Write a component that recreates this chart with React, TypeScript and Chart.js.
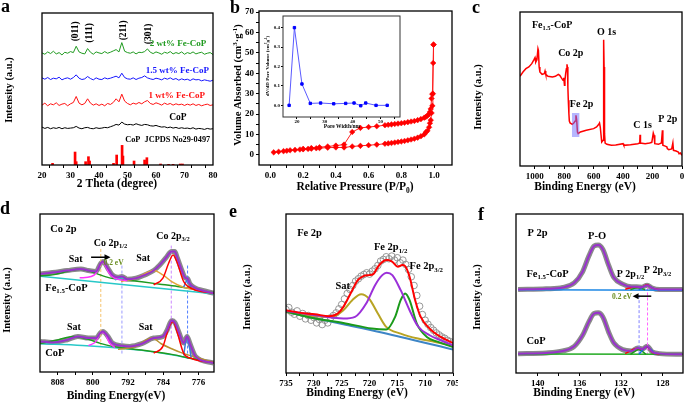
import React, { useEffect, useRef } from "react";
import { Chart, registerables } from "chart.js";

Chart.register(...registerables);

const SERIF = '"Liberation Serif", "Times New Roman", Times, serif';

// ---------------- Panel a : XRD ----------------
const xrdTheta = [20,21,22,23,24,25,26,27,28,29,30,31,32,33,34,35,36,37,38,39,40,41,42,43,44,45,46,47,48,49,50,51,52,53,54,55,56,57,58,59,60,61,62,63,64,65,66,67,68,69,70,71,72,73,74,75,76,77,78,79,80];
const xrd2wt = [337,333,340,335,342,334,338,331,339,336,341,338,357,340,336,334,350,339,333,340,337,335,341,336,339,343,347,340,368,342,338,336,340,334,339,338,341,349,339,335,340,337,333,339,336,341,334,338,335,340,333,338,335,340,334,337,339,333,336,338,332];
const xrd15wt = [262,258,263,257,261,259,264,256,260,262,258,263,271,261,257,259,266,260,256,262,258,257,262,259,261,264,267,262,276,263,259,258,262,257,261,263,268,262,259,257,261,259,256,261,258,262,257,260,255,259,256,258,254,259,256,257,253,256,254,252,255];
const xrd1wt = [180,186,178,184,181,187,179,183,185,178,184,188,206,186,181,185,199,186,180,184,179,183,178,185,182,188,199,190,213,192,185,181,186,183,188,184,190,194,185,182,187,184,180,186,182,185,180,184,181,183,179,183,180,184,179,182,178,181,183,179,181];
const xrdCoP = [114,110,113,109,112,110,113,109,112,110,111,112,116,111,109,112,113,110,109,112,110,111,113,112,115,118,122,120,129,123,121,122,120,124,121,119,122,121,118,117,119,116,114,115,112,114,111,113,110,112,110,111,109,112,108,110,109,107,110,108,109];
const jcpdsTheta = [23.7,31.6,32.0,35.3,36.3,36.7,45.1,46.2,48.1,48.4,52.3,56.0,56.8,61.6,64.4,66.0,68.5,69.3];
const jcpdsInt = [5,39,10,10,25,12,5,30,59,27,12,15,22,3,2,2,3,3];
const xrdTicks = [20,30,40,50,60,70,80];

// ---------------- Panel b : N2 isotherm ----------------
const adsP = [0.02,0.05,0.08,0.1,0.12,0.15,0.18,0.2,0.23,0.25,0.28,0.3,0.35,0.4,0.45,0.5,0.55,0.6,0.65,0.7,0.72,0.74,0.76,0.78,0.8,0.82,0.84,0.86,0.88,0.9,0.92,0.94,0.95,0.96,0.97,0.975,0.98,0.985,0.99,0.993,0.995,0.997];
const adsV = [1.2,1.5,1.8,2.0,2.2,2.4,2.6,2.7,2.9,3.0,3.2,3.3,3.5,3.6,3.6,4.1,4.4,4.7,5.0,5.4,5.6,5.8,6.0,6.3,6.5,6.8,7.1,7.5,7.9,8.4,9.1,10.0,11.0,11.8,13.5,15.5,17.0,20.5,24.0,30.0,45.0,54.0];
const desP = [0.997,0.99,0.985,0.98,0.975,0.97,0.96,0.95,0.94,0.92,0.9,0.88,0.86,0.84,0.82,0.8,0.78,0.76,0.74,0.72,0.7,0.65,0.6,0.55,0.5,0.45,0.4,0.35,0.3,0.25,0.2];
const desV = [54.0,29.7,27.6,22.5,21.0,20.0,19.2,18.6,18.2,17.5,17.0,16.6,16.3,16.0,15.7,15.5,15.3,15.1,14.9,14.7,14.5,14.0,13.6,13.2,11.2,5.0,4.5,4.1,3.7,3.3,2.9];
const bTicksX = [0, 0.2, 0.4, 0.6, 0.8, 1.0];
const bTicksY = [0, 10, 20, 30, 40, 50, 60, 70];
const poreWidth = [17.2,19.1,21.8,24.8,28.5,33.2,37.5,40.5,42.9,44.7,48.4,52.4];
const poreVol = [0.0,0.4,0.11,0.01,0.012,0.008,0.01,0.012,-0.002,0.012,0.0,0.0];

// ---------------- Panel c : XPS survey ----------------
const surveyBE = [1100,1080,1060,1040,1020,1005,998,993,985,978,975,970,965,950,935,930,925,910,880,860,840,830,820,808,803,798,795,790,785,781,778,775,772,768,765,760,745,735,725,720,715,710,705,690,650,600,580,565,560,555,545,536,532,529,526,522,510,480,450,400,395,350,300,287,285,282,250,220,205,195,190,185,160,140,133,130,110,102,100,90,70,62,58,40,25,20,10,0];
const surveyI = [269,282,292,297,307,319,325,312,319,352,347,297,282,275,277,285,275,269,267,269,275,272,265,257,265,242,257,277,292,305,297,237,197,157,135,129,125,129,135,152,137,102,97,102,107,112,117,125,129,117,72,77,379,297,97,69,65,62,63,67,62,64,67,69,94,69,67,69,71,99,92,67,65,69,107,62,59,57,52,49,51,69,47,45,42,37,39,32];
const surveyTicks = [1000, 800, 600, 400, 200, 0];
const feBox = [747, 697, 87, 159];

// ---------------- Panel d : Co 2p ----------------
const dTopEnv = [[811.9,295],[809.2,299],[805.8,305],[802.7,310],[801.0,305],[799.3,302],[798.2,327],[797.7,332],[796.6,312],[795.6,292],[794.3,285],[793.4,287],[792.2,279],[790.2,282],[788.2,292],[786.2,305],[784.8,322],[783.5,342],[782.1,362],[781.4,362],[780.8,342],[779.7,302],[779.0,283],[778.5,281],[778.0,266],[776.7,252],[775.3,246],[772.6,237]];
const dTopSat1 = [[811.9,289],[809.2,292],[807.1,298],[805.1,305],[803.1,309],[801.0,304],[799.0,295],[797.0,286],[795.0,280],[792.2,276],[788.9,271],[784.8,264],[780.8,257],[776.7,248],[772.6,238]];
const dTopBg = [[811.9,288],[772.6,235]];
const dTopP12 = [[803.0,283],[800.4,287],[799.3,297],[798.7,314],[797.8,331],[797.0,316],[796.3,297],[795.3,284],[794.3,279],[792.2,275]];
const dTopP12b = [[795.0,277],[793.4,283],[792.2,275]];
const dTopSat2 = [[793.6,272],[790.2,282],[787.5,300],[786.2,305],[784.1,292],[782.1,272],[779.4,255],[775.3,245],[772.6,237]];
const dTopP32 = [[786.2,262],[784.1,282],[782.8,327],[781.8,352],[780.8,327],[779.4,272],[777.4,250],[772.6,237]];
const dTopP32b = [[779.4,255],[778.5,277],[777.7,254]];
const dBotEnv = [[811.9,92],[809.2,89],[805.8,97],[803.4,107],[801.0,102],[799.3,102],[798.2,119],[797.7,122],[796.6,107],[795.6,87],[793.4,79],[791.6,77],[788.9,85],[786.2,102],[784.1,107],[783.1,127],[782.1,155],[781.4,149],[780.4,117],[779.4,87],[778.6,107],[778.0,87],[776.7,47],[772.6,27]];
const dBotBg = [[811.9,85],[802.4,80],[795.6,74],[788.9,65],[782.1,52],[776.7,38],[772.6,27]];
const dBotSat1 = [[811.9,86],[807.8,97],[804.4,107],[802.4,103],[801.0,98],[798.3,86],[795.6,77],[792.2,71],[788.9,66],[782.1,53],[776.7,38],[772.6,28]];
const dBotP12 = [[801.0,79],[799.3,92],[798.2,119],[797.3,117],[796.3,89],[795.0,73]];
const dBotSat2 = [[794.3,68],[790.2,77],[787.5,99],[786.5,102],[784.5,85],[782.1,70],[780.1,59],[775.3,39],[772.6,29]];
const dBotP32 = [[786.2,57],[784.1,77],[782.8,132],[781.8,152],[780.8,117],[779.4,57],[777.4,40],[772.6,28]];
const dBotP32b = [[779.4,50],[778.6,107],[777.7,45]];
const dMarkBE = [798.2, 793.4, 782.2, 778.5];
const dMarkTop = [370, 320, 380, 320];
const dMarkBot = [80, 55, 100, 40];
const dTicks = [808, 800, 792, 784, 776];

// ---------------- Panel e : Fe 2p ----------------
const feRawBE = [735,734.5,734,733.5,733,732.5,732,731.5,731,730.5,730,729.5,729,728.5,728,727.5,727,726.5,726,725.5,725,724.5,724,723.5,723,722.5,722,721.5,721,720.5,720,719.5,719,718.5,718,717.5,717,716.5,716,715.5,715,714.5,714,713.5,713,712.5,712,711.5,711,710.5,710,709.5,709,708.5,708,707.5,707,706.5,706,705.5,705];
const feRawI = [190,196,182,176,186,170,178,162,172,158,166,150,160,145,158,150,165,172,180,192,205,222,238,250,262,275,282,290,295,300,296,305,312,322,335,340,348,342,350,338,345,330,338,325,310,288,262,232,200,175,158,146,136,128,120,114,108,104,98,94,90];
const eEnv = [[735,188],[732.4,180],[729.8,176],[727.3,170],[725.7,178],[724.7,198],[723.1,248],[722.1,278],[721.1,290],[720.1,293],[719.3,296],[718.5,318],[717.5,335],[716.7,338],[715.9,333],[714.9,318],[714.1,323],[713.6,320],[712.8,288],[711.8,218],[710.8,168],[709.2,133],[707.2,108],[705.0,90]];
const eSat = [[735,183],[729.8,170],[726.8,168],[724.7,188],[723.1,218],[721.5,236],[720.1,223],[718.5,178],[717.0,138],[714.4,118],[711.3,103],[708.2,93],[705.0,81]];
const eP12 = [[735,186],[729.8,173],[726.8,166],[724.7,163],[722.6,168],[720.6,208],[719.0,263],[717.7,293],[716.9,300],[715.9,293],[714.4,248],[712.8,188],[711.3,140],[709.2,113],[707.2,98],[705.0,83]];
const eP32 = [[735,184],[729.8,163],[724.7,150],[719.6,133],[717.0,130],[715.4,168],[714.4,218],[713.6,238],[712.8,218],[711.5,148],[709.7,108],[707.7,93],[705.0,78]];
const eBg = [[735,183],[724.7,146],[714.4,108],[705.0,70]];
const eTicks = [735, 730, 725, 720, 715, 710, 705];

// ---------------- Panel f : P 2p ----------------
const fTopEnv = [[141.9,250],[139.2,252],[137.6,256],[136.5,270],[135.7,303],[135.1,350],[134.6,380],[134.2,383],[133.75,370],[133.2,323],[132.7,286],[131.85,266],[131.0,258],[130.5,258],[130.0,257],[129.5,263],[129.0,254],[128.3,250],[126.1,250]];
const fTopFit = [[131.6,251],[130.6,258],[130.1,256],[129.5,264],[129.0,254],[128.3,250]];
const fTopP12 = [[131.1,249],[130.4,256],[129.7,249]];
const fTopP32 = [[130.3,249],[129.5,263],[128.7,249]];
const fTopBg = [[141.9,249],[126.1,248]];
const fBotEnv = [[141.9,58],[139.2,60],[137.6,66],[136.5,80],[135.7,113],[135.1,153],[134.6,178],[134.2,180],[133.75,168],[133.2,123],[132.7,90],[131.85,70],[131.0,66],[130.4,75],[129.95,72],[129.5,80],[129.0,63],[128.3,58],[126.1,56]];
const fBotFit = [[131.6,58],[130.4,74],[130.0,71],[129.5,79],[129.0,62],[128.3,57]];
const fBotP12 = [[131.1,56],[130.3,70],[129.6,56]];
const fBotP32 = [[130.3,56],[129.5,78],[128.7,56]];
const fBotBg = [[141.9,57],[126.1,56]];
const fMarkBE = [130.27, 129.46];
const fMarkTop = [233, 256];
const fMarkBot = [58, 58];
const fTicks = [140, 136, 132, 128];

// ---------------- helpers ----------------
const xy = (xs: number[], ys: number[]) => xs.map((x, i) => ({ x, y: ys[i] }));
const pr = (a: number[][]) => a.map(([x, y]) => ({ x, y }));

function line(data: any[], color: string, width = 1.5, extra: any = {}) {
  return { type: "line", data, borderColor: color, backgroundColor: color, borderWidth: width, pointRadius: 0, fill: false, tension: 0, ...extra };
}
const smooth = { cubicInterpolationMode: "monotone" };
const dashed = (x: number, y1: number, y2: number, color: string) =>
  line(pr([[x, y1], [x, y2]]), color, 1, { borderDash: [3, 2] });

function parseRich(s: string) {
  const segs: { t: string; m: number }[] = [];
  let buf = "";
  let i = 0;
  while (i < s.length) {
    if ((s[i] === "_" || s[i] === "^") && s[i + 1] === "{") {
      if (buf) segs.push({ t: buf, m: 0 });
      buf = "";
      const end = s.indexOf("}", i);
      segs.push({ t: s.slice(i + 2, end), m: s[i] === "_" ? 1 : 2 });
      i = end + 1;
    } else {
      buf += s[i];
      i++;
    }
  }
  if (buf) segs.push({ t: buf, m: 0 });
  return segs;
}

function drawRich(ctx: CanvasRenderingContext2D, s: string, x: number, y: number, size: number, color: string, align = "left", rot = 0) {
  const segs = parseRich(s);
  const fnt = (sz: number) => `bold ${sz}px ${SERIF}`;
  let w = 0;
  for (const g of segs) {
    ctx.font = fnt(g.m ? size * 0.65 : size);
    w += ctx.measureText(g.t).width;
  }
  ctx.save();
  ctx.translate(x, y);
  ctx.rotate(rot);
  let cx = align === "center" ? -w / 2 : align === "right" ? -w : 0;
  ctx.fillStyle = color;
  ctx.textBaseline = "middle";
  ctx.textAlign = "left";
  for (const g of segs) {
    ctx.font = fnt(g.m ? size * 0.65 : size);
    const dy = g.m === 1 ? size * 0.32 : g.m === 2 ? -size * 0.3 : 0;
    ctx.fillText(g.t, cx, dy);
    cx += ctx.measureText(g.t).width;
  }
  ctx.restore();
}

function decoPlugin(d: any) {
  return {
    id: "deco",
    beforeDraw(chart: any) {
      const { ctx, chartArea: a } = chart;
      if (d.bg) {
        ctx.save();
        ctx.fillStyle = "#fff";
        ctx.fillRect(a.left, a.top, a.right - a.left, a.bottom - a.top);
        ctx.restore();
      }
    },
    afterDatasetsDraw(chart: any) {
      const { ctx, scales } = chart;
      const X = (v: number) => scales.x.getPixelForValue(v);
      const Y = (v: number) => scales.y.getPixelForValue(v);
      for (const r of d.rects || []) {
        const x1 = X(r.x1), x2 = X(r.x2), y1 = Y(r.y1), y2 = Y(r.y2);
        ctx.save();
        ctx.fillStyle = r.c;
        ctx.fillRect(Math.min(x1, x2), Math.min(y1, y2), Math.abs(x2 - x1), Math.abs(y2 - y1));
        ctx.restore();
      }
      for (const ar of d.arrows || []) {
        const x1 = X(ar.x1), y1 = Y(ar.y1), x2 = X(ar.x2), y2 = Y(ar.y2);
        const ang = Math.atan2(y2 - y1, x2 - x1);
        ctx.save();
        ctx.strokeStyle = ar.c;
        ctx.fillStyle = ar.c;
        ctx.lineWidth = ar.w || 1.5;
        ctx.beginPath();
        ctx.moveTo(x1, y1);
        ctx.lineTo(x2 - Math.cos(ang) * 4, y2 - Math.sin(ang) * 4);
        ctx.stroke();
        ctx.beginPath();
        ctx.moveTo(x2, y2);
        ctx.lineTo(x2 - Math.cos(ang) * 6 - Math.sin(ang) * 3, y2 - Math.sin(ang) * 6 + Math.cos(ang) * 3);
        ctx.lineTo(x2 - Math.cos(ang) * 6 + Math.sin(ang) * 3, y2 - Math.sin(ang) * 6 - Math.cos(ang) * 3);
        ctx.closePath();
        ctx.fill();
        ctx.restore();
      }
      for (const t of d.texts || []) {
        drawRich(ctx, t.t, X(t.x), Y(t.y), t.s ?? 10, t.c ?? "#000", t.a ?? "left", ((t.r ?? 0) * Math.PI) / 180);
      }
    },
    afterDraw(chart: any) {
      const { ctx, chartArea: a } = chart;
      ctx.save();
      ctx.strokeStyle = d.frameColor ?? "#000";
      ctx.lineWidth = d.frameWidth ?? 1.3;
      ctx.strokeRect(a.left, a.top, a.right - a.left, a.bottom - a.top);
      ctx.restore();
      if (d.letter) {
        ctx.save();
        ctx.font = `bold 18px ${SERIF}`;
        ctx.fillStyle = "#000";
        ctx.textBaseline = "alphabetic";
        ctx.textAlign = "left";
        ctx.fillText(d.letter.t, d.letter.x, d.letter.y);
        ctx.restore();
      }
      if (d.xTitle) drawRich(ctx, d.xTitle.t, d.xTitle.x, d.xTitle.y, d.xTitle.s, "#000", "center", 0);
      if (d.yTitle) drawRich(ctx, d.yTitle.t, d.yTitle.x, d.yTitle.y, d.yTitle.s, "#000", "center", -Math.PI / 2);
    },
  };
}

function scale(a: any, horizontal: boolean, size: number) {
  const lo = Math.min(a.min, a.max), hi = Math.max(a.min, a.max);
  const all = [...a.major, ...(a.minor || [])].filter((v) => v >= lo && v <= hi).sort((p, q) => p - q);
  return {
    type: "linear",
    display: a.show !== false,
    position: horizontal ? "bottom" : "left",
    min: a.min,
    max: a.max,
    reverse: !!a.reverse,
    offset: false,
    afterBuildTicks: (s: any) => {
      s.ticks = all.map((v) => ({ value: v }));
    },
    afterFit: (s: any) => {
      if (horizontal) {
        s.height = size;
        s.paddingLeft = 0;
        s.paddingRight = 0;
      } else {
        s.width = size;
        s.paddingTop = 0;
        s.paddingBottom = 0;
      }
    },
    grid: { drawOnChartArea: false, drawTicks: true, tickLength: a.tick ?? 3, color: "#000", lineWidth: 1 },
    border: { display: false },
    ticks: {
      autoSkip: false,
      maxRotation: 0,
      minRotation: 0,
      padding: a.pad ?? 2,
      color: "#000",
      font: { family: SERIF, size: a.font ?? 9, weight: "bold" },
      callback: (v: number) => (a.major.includes(v) ? (a.fmt ? a.fmt(v) : String(v)) : ""),
    },
  };
}

function makeConfig(g: any, datasets: any[], xs: any, ys: any, deco: any) {
  const yShow = ys.show !== false;
  return {
    type: "line",
    data: { datasets },
    options: {
      responsive: false,
      maintainAspectRatio: false,
      animation: false,
      devicePixelRatio: 1,
      events: [],
      layout: { padding: { left: yShow ? 0 : g.L, top: g.T, right: g.w - g.R, bottom: 0 } },
      plugins: { legend: { display: false }, tooltip: { enabled: false } },
      scales: { x: scale(xs, true, g.h - g.B), y: scale(ys, false, g.L) },
    },
    plugins: [decoPlugin(deco)],
  };
}

const mids = (t: number[]) => t.slice(1).map((v, i) => (v + t[i]) / 2);

const GEO: any = {
  a: { x: 0, y: 0, w: 228, h: 200, L: 21, T: 13, R: 213, B: 165 },
  b: { x: 228, y: 0, w: 230, h: 200, L: 31, T: 11, R: 224, B: 165 },
  bi: { x: 262, y: 10, w: 145, h: 122, L: 21, T: 6, R: 138, B: 107 },
  c: { x: 458, y: 0, w: 227, h: 200, L: 31, T: 12, R: 224, B: 166 },
  d: { x: 0, y: 200, w: 228, h: 203, L: 20, T: 14, R: 214, B: 172 },
  e: { x: 228, y: 200, w: 230, h: 203, L: 29, T: 14, R: 225, B: 173 },
  f: { x: 458, y: 200, w: 227, h: 203, L: 29, T: 14, R: 225, B: 173 },
};

const GREEN = "#1f9a1f";
const BLUE = "#1515ff";
const RED = "#ff1010";
const OLIVE = "#6b8e23";

function cfgA() {
  const ds = [
    line(xy(xrdTheta, xrd2wt), GREEN, 1),
    line(xy(xrdTheta, xrd15wt), BLUE, 1),
    line(xy(xrdTheta, xrd1wt), RED, 1),
    line(xy(xrdTheta, xrdCoP), "#000", 1),
    { type: "bar", data: xy(jcpdsTheta, jcpdsInt), backgroundColor: "#ff0000", barThickness: 2, borderWidth: 0 },
  ];
  return makeConfig(
    GEO.a,
    ds,
    { min: 20, max: 80, major: xrdTicks, minor: mids(xrdTicks) },
    { min: 0, max: 457, major: [], show: false },
    {
      letter: { t: "a", x: 1, y: 12 },
      xTitle: { t: "2 Theta (degree)", x: 117, y: 184, s: 11.5 },
      yTitle: { t: "Intensity (a.u.)", x: 9, y: 90, s: 10.5 },
      texts: [
        { t: "(011)", x: 31.75, y: 402, a: "center", r: -90, s: 9.5 },
        { t: "(111)", x: 36.7, y: 397, a: "center", r: -90, s: 9.5 },
        { t: "(211)", x: 48.6, y: 405, a: "center", r: -90, s: 9.5 },
        { t: "(301)", x: 57.3, y: 394, a: "center", r: -90, s: 9.5 },
        { t: "2 wt% Fe-CoP", x: 67.7, y: 365, a: "center", c: GREEN, s: 9 },
        { t: "1.5 wt% Fe-CoP", x: 67.5, y: 285, a: "center", c: BLUE, s: 9 },
        { t: "1 wt% Fe-CoP", x: 67.3, y: 207, a: "center", c: RED, s: 9 },
        { t: "CoP", x: 67.7, y: 142, a: "center", s: 9.5 },
        { t: "CoP  JCPDS No29-0497", x: 64.1, y: 77, a: "center", s: 8.3 },
      ],
    }
  );
}

function cfgB() {
  const mk = { pointStyle: "rectRot", pointRadius: 2.8, pointBackgroundColor: "#ff0000", pointBorderColor: "#ff0000", pointBorderWidth: 0.5 };
  const ds = [line(xy(adsP, adsV), "#ff2020", 1, mk), line(xy(desP, desV), "#ff2020", 1, mk)];
  return makeConfig(
    GEO.b,
    ds,
    { min: -0.07, max: 1.11, major: bTicksX, minor: mids(bTicksX), fmt: (v: number) => v.toFixed(1) },
    { min: -5, max: 70.5, major: bTicksY, minor: mids(bTicksY) },
    {
      letter: { t: "b", x: 2, y: 13 },
      xTitle: { t: "Relative Pressure (P/P_{0})", x: 127, y: 187, s: 11.5 },
      yTitle: { t: "Volume Absorbed (cm^{3}·g^{-1})", x: 10, y: 85, s: 10.5 },
    }
  );
}

function cfgBi() {
  const ds = [
    line(xy(poreWidth, poreVol), "#5a5aff", 1, {
      pointStyle: "rect",
      pointRadius: 1.7,
      pointBackgroundColor: "#0000ff",
      pointBorderColor: "#0000ff",
    }),
  ];
  return makeConfig(
    GEO.bi,
    ds,
    { min: 15, max: 57, major: [20, 30, 40, 50], minor: [25, 35, 45, 55], font: 5, tick: 2, pad: 0 },
    { min: -0.06, max: 0.46, major: [0, 0.1, 0.2, 0.3, 0.4], fmt: (v: number) => v.toFixed(1), font: 5, tick: 2, pad: 1 },
    {
      bg: true,
      frameColor: "#333",
      frameWidth: 1,
      xTitle: { t: "Pore Width/nm", x: 80, y: 117, s: 5.5 },
      yTitle: { t: "dV/dD Pore Volume (cm^{3}g^{-1})", x: 6, y: 56, s: 5 },
    }
  );
}

function cfgC() {
  const ds = [line(xy(surveyBE, surveyI), "#ff0000", 1.5)];
  return makeConfig(
    GEO.c,
    ds,
    { min: 0, max: 1100, reverse: true, major: surveyTicks, minor: mids(surveyTicks) },
    { min: 0, max: 462, major: [], show: false },
    {
      letter: { t: "c", x: 14, y: 13 },
      xTitle: { t: "Binding Energy (eV)", x: 127, y: 187, s: 11.5 },
      yTitle: { t: "Intensity (a.u.)", x: 20, y: 97, s: 10.5 },
      rects: [{ x1: feBox[0], x2: feBox[1], y1: feBox[2], y2: feBox[3], c: "rgba(110,110,255,0.5)" }],
      texts: [
        { t: "Fe_{1.5}-CoP", x: 1019, y: 422, s: 10 },
        { t: "Co 2p", x: 841, y: 337, s: 10 },
        { t: "O 1s", x: 577, y: 402, s: 10 },
        { t: "Fe 2p", x: 762, y: 184, s: 10 },
        { t: "C 1s", x: 331, y: 122, s: 10 },
        { t: "P 2p", x: 162, y: 139, s: 10 },
      ],
    }
  );
}

function cfgD() {
  const PUR = "#9932cc";
  const GRAY = "#8a8a8a";
  const ds = [
    line(pr(dTopEnv), PUR, 2, smooth),
    line(pr(dBotEnv), PUR, 2, smooth),
    line(pr(dTopP32), "#ff0000", 1.5, smooth),
    line(pr(dBotP32), "#ff0000", 1.5, smooth),
    line(pr(dTopP32b), "#3a7bd5", 1.5, smooth),
    line(pr(dBotP32b), "#3a7bd5", 1.5, smooth),
    line(pr(dTopP12), "#ff33ff", 1.5, smooth),
    line(pr(dBotP12), "#ff33ff", 1.5, smooth),
    line(pr(dTopP12b), "#22c0d0", 1.5, smooth),
    line(pr(dTopSat2), "#e3a53a", 1.5, smooth),
    line(pr(dBotSat2), "#b8912e", 1.5, smooth),
    line(pr(dTopSat1), "#1f9a1f", 1.5, smooth),
    line(pr(dBotSat1), "#1f9a1f", 1.5, smooth),
    line(pr(dTopBg), "#28c8c8", 1.5),
    line(pr(dBotBg), "#28c8c8", 1.5, smooth),
    dashed(dMarkBE[0], dMarkTop[0], dMarkBot[0], "#f5c26b"),
    dashed(dMarkBE[1], dMarkTop[1], dMarkBot[1], "#9a9aff"),
    dashed(dMarkBE[2], dMarkTop[2], dMarkBot[2], "#cc88ff"),
    dashed(dMarkBE[3], dMarkTop[3], dMarkBot[3], "#4f7dff"),
    line(pr(dTopEnv), GRAY, 5, smooth),
    line(pr(dBotEnv), GRAY, 5, smooth),
  ];
  return makeConfig(
    GEO.d,
    ds,
    { min: 772.5, max: 812, reverse: true, major: dTicks, minor: mids(dTicks) },
    { min: 0, max: 475, major: [], show: false },
    {
      letter: { t: "d", x: 0, y: 14 },
      xTitle: { t: "Binding Energy(eV)", x: 116, y: 196, s: 11.5 },
      yTitle: { t: "Intensity (a.u.)", x: 7, y: 100, s: 10.5 },
      arrows: [{ x1: 800.4, y1: 345, x2: 796.0, y2: 345, c: "#000" }],
      texts: [
        { t: "Co 2p", x: 809.7, y: 429, s: 10.5 },
        { t: "Co 2p_{1/2}", x: 796.0, y: 387, a: "center", s: 10 },
        { t: "Co 2p_{3/2}", x: 781.8, y: 407, a: "center", s: 10 },
        { t: "Sat", x: 803.9, y: 339, a: "center", s: 10 },
        { t: "Sat", x: 788.6, y: 342, a: "center", s: 10 },
        { t: "Fe_{1.5}-CoP", x: 810.8, y: 252, s: 10.5 },
        { t: "Sat", x: 804.3, y: 134, a: "center", s: 10 },
        { t: "Sat", x: 788.0, y: 134, a: "center", s: 10 },
        { t: "CoP", x: 810.8, y: 55, s: 10.5 },
        { t: "0.2 eV", x: 795.3, y: 327, a: "center", c: OLIVE, s: 7.5 },
      ],
    }
  );
}

function cfgE() {
  const ds = [
    line(pr(eEnv), "#ff0000", 2, smooth),
    line(pr(eP12), "#9b30d9", 2, smooth),
    line(pr(eP32), "#1a9a1a", 2, smooth),
    line(pr(eSat), "#b8a424", 2, smooth),
    line(pr(eBg), "#3d85c6", 2, smooth),
    {
      type: "line",
      data: xy(feRawBE, feRawI),
      showLine: false,
      pointStyle: "circle",
      pointRadius: 3.3,
      pointBorderWidth: 0.9,
      pointBorderColor: "#8c8c8c",
      pointBackgroundColor: "rgba(255,255,255,0)",
    },
  ];
  return makeConfig(
    GEO.e,
    ds,
    { min: 705, max: 735, reverse: true, major: eTicks, minor: mids(eTicks) },
    { min: 0, max: 476, major: [], show: false },
    {
      letter: { t: "e", x: 1, y: 17 },
      xTitle: { t: "Binding Energy (eV)", x: 129, y: 193, s: 11.5 },
      yTitle: { t: "Intensity (a.u.)", x: 19, y: 97, s: 10.5 },
      texts: [
        { t: "Fe 2p", x: 733, y: 418, s: 10.5 },
        { t: "Fe 2p_{1/2}", x: 716.2, y: 376, a: "center", s: 10.5 },
        { t: "Fe 2p_{3/2}", x: 709.8, y: 318, a: "center", s: 10.5 },
        { t: "Sat", x: 724.8, y: 260, a: "center", s: 10.5 },
      ],
    }
  );
}

function cfgF() {
  const PUR = "#9932cc";
  const GRAY = "#8a8a8a";
  const ds = [
    line(pr(fTopEnv), PUR, 2, smooth),
    line(pr(fBotEnv), PUR, 2, smooth),
    line(pr(fTopFit), "#ff0000", 1.5, smooth),
    line(pr(fBotFit), "#ff0000", 1.5, smooth),
    line(pr(fTopP32), "#1e6fe0", 1.5, smooth),
    line(pr(fBotP32), "#1e6fe0", 1.5, smooth),
    line(pr(fTopP12), "#1f9a1f", 1.5, smooth),
    line(pr(fBotP12), "#1f9a1f", 1.5, smooth),
    line(pr(fTopBg), "#1e88e5", 1.5),
    line(pr(fBotBg), "#22aa22", 1.5),
    dashed(fMarkBE[0], fMarkTop[0], fMarkBot[0], "#8080ff"),
    dashed(fMarkBE[1], fMarkTop[1], fMarkBot[1], "#ff66ff"),
    line(pr(fTopEnv), GRAY, 5, smooth),
    line(pr(fBotEnv), GRAY, 5, smooth),
  ];
  return makeConfig(
    GEO.f,
    ds,
    { min: 126.05, max: 142.1, reverse: true, major: fTicks, minor: mids(fTicks) },
    { min: 0, max: 476, major: [], show: false },
    {
      letter: { t: "f", x: 20, y: 20 },
      xTitle: { t: "Binding Energy (eV)", x: 126, y: 193, s: 11.5 },
      yTitle: { t: "Intensity (a.u.)", x: 19, y: 97, s: 10.5 },
      arrows: [{ x1: 129.1, y1: 230, x2: 130.9, y2: 230, c: "#000" }],
      texts: [
        { t: "P 2p", x: 141, y: 418, s: 10.5 },
        { t: "P-O", x: 134.3, y: 408, a: "center", s: 10.5 },
        { t: "Fe_{1.5}-CoP", x: 141.1, y: 296, s: 10.5 },
        { t: "P 2p_{1/2}", x: 131.1, y: 296, a: "center", s: 10 },
        { t: "P 2p_{3/2}", x: 128.5, y: 306, a: "center", s: 10 },
        { t: "CoP", x: 141.1, y: 96, s: 10.5 },
        { t: "0.2 eV", x: 130.95, y: 226, a: "right", c: OLIVE, s: 7.5 },
      ],
    }
  );
}

function ChartBox({ g, cfg }: { g: any; cfg: () => any }) {
  const ref = useRef<HTMLCanvasElement>(null);
  useEffect(() => {
    const chart = new Chart(ref.current as HTMLCanvasElement, cfg() as any);
    return () => chart.destroy();
  }, []);
  return (
    <canvas
      ref={ref}
      width={g.w}
      height={g.h}
      style={{ position: "absolute", left: g.x, top: g.y, width: g.w, height: g.h }}
    />
  );
}

export default function App() {
  return (
    <div style={{ position: "absolute", left: 0, top: 0, width: 685, height: 403, background: "#fff", overflow: "hidden" }}>
      <ChartBox g={GEO.a} cfg={cfgA} />
      <ChartBox g={GEO.b} cfg={cfgB} />
      <ChartBox g={GEO.bi} cfg={cfgBi} />
      <ChartBox g={GEO.c} cfg={cfgC} />
      <ChartBox g={GEO.d} cfg={cfgD} />
      <ChartBox g={GEO.e} cfg={cfgE} />
      <ChartBox g={GEO.f} cfg={cfgF} />
    </div>
  );
}
